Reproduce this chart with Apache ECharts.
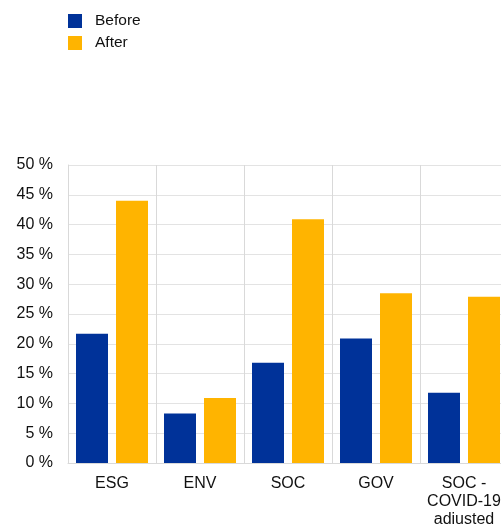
<!DOCTYPE html>
<html>
<head>
<meta charset="utf-8">
<script src="https://cdn.jsdelivr.net/npm/echarts@6/dist/echarts.min.js"></script>
<style>
  html, body { margin: 0; padding: 0; background: #fff; }
  #chart { width: 501px; height: 524px; }
</style>
</head>
<body>
<div id="chart"></div>
<script>
const categories = ['ESG', 'ENV', 'SOC', 'GOV', 'SOC -\nCOVID-19\nadjusted']
const before = [21.7, 8.3, 16.8, 20.9, 11.8]
const after = [44.0, 10.9, 40.9, 28.5, 27.9]

const myChart = echarts.init(document.getElementById('chart'))
const font = 'Liberation Sans, Arial, sans-serif'
const option = {
  animation: false,
  legend: {
    orient: 'vertical',
    left: 63,
    top: 8,
    itemWidth: 14,
    itemHeight: 14,
    itemGap: 6,
    icon: 'rect',
    textStyle: { fontFamily: font, fontSize: 15.5, color: '#111', lineHeight: 14, padding: [0, 0, 0, 8] },
    data: ['Before', 'After']
  },
  grid: { left: 68, right: -7, top: 165, bottom: 61, outerBoundsMode: 'none', containLabel: false },
  xAxis: {
    type: 'category',
    data: categories,
    axisLine: { lineStyle: { color: '#d9d9d9', width: 1 } },
    axisTick: { show: false },
    splitLine: { show: true, lineStyle: { color: '#d9d9d9', width: 1 } },
    axisLabel: { fontFamily: font, fontSize: 16, color: '#111', margin: 12, lineHeight: 18, interval: 0 }
  },
  yAxis: {
    type: 'value',
    min: 0,
    max: 50,
    interval: 5,
    axisLine: { show: true, lineStyle: { color: '#d9d9d9', width: 1 } },
    axisTick: { show: false },
    splitLine: { lineStyle: { color: '#e3e3e3', width: 1 } },
    axisLabel: { fontFamily: font, fontSize: 16, color: '#111', margin: 15, formatter: '{value} %' }
  },
  series: [
    {
      name: 'Before',
      type: 'bar',
      data: before,
      barWidth: 32,
      barGap: '25%',
      itemStyle: { color: '#003299' }
    },
    {
      name: 'After',
      type: 'bar',
      data: after,
      barWidth: 32,
      barGap: '25%',
      itemStyle: { color: '#ffb400' }
    }
  ]
}
myChart.setOption(option)
</script>
</body>
</html>
